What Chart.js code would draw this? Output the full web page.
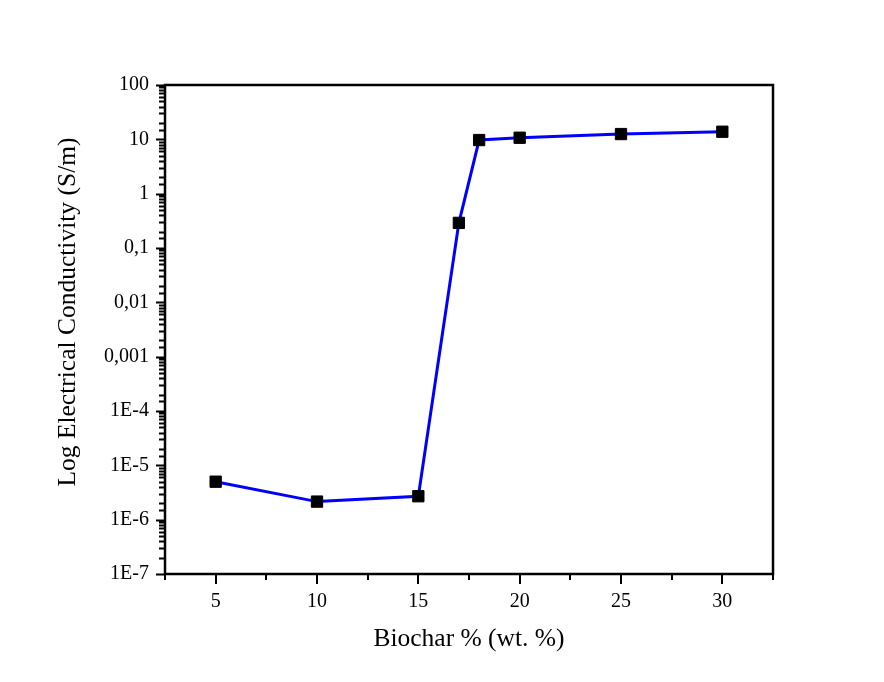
<!DOCTYPE html>
<html>
<head>
<meta charset="utf-8">
<script src="https://cdn.jsdelivr.net/npm/chart.js@4.4.0/dist/chart.umd.min.js"></script>
<style>
  html, body { margin: 0; background: #fff; }
  #wrap { width: 884px; height: 682px; }
</style>
</head>
<body>
<div id="wrap"><canvas id="grafica"></canvas></div>
<script>
// Datos
const biochar = [5, 10, 15, 17, 18, 20, 25, 30];
const conductividad = [5.0e-6, 2.15e-6, 2.7e-6, 0.29, 9.7, 10.7, 12.5, 13.8];
// etiquetas del eje y, de 1E-7 a 100
const etiquetasY = ['1E-7', '1E-6', '1E-5', '1E-4', '0,001', '0,01', '0,1', '1', '10', '100'];
const etiquetasX = ['5', '10', '15', '20', '25', '30'];
const tituloY = 'Log Electrical Conductivity (S/m)';
const tituloX = 'Biochar % (wt. %)';

const serif = 'Liberation Serif';

function esPotencia(v) {
  const e = Math.log10(v);
  return Math.abs(e - Math.round(e)) < 1e-9;
}

// marco, marcas hacia fuera y titulo del eje y
const marco = {
  id: 'marco',
  afterDraw(chart) {
    const { ctx, chartArea: a, scales: { x, y } } = chart;
    ctx.save();
    ctx.strokeStyle = '#000';
    ctx.lineWidth = 2.5;
    ctx.strokeRect(a.left, a.top, a.right - a.left, a.bottom - a.top);
    ctx.lineWidth = 2;
    ctx.beginPath();
    y.ticks.forEach(t => {
      const p = Math.round(y.getPixelForValue(t.value)) + 0.5;
      const len = esPotencia(t.value) ? 9 : 6;
      ctx.moveTo(a.left - len, p);
      ctx.lineTo(a.left, p);
    });
    x.ticks.forEach(t => {
      const p = Math.round(x.getPixelForValue(t.value));
      const len = t.value % 5 === 0 ? 10 : 6;
      ctx.moveTo(p, a.bottom);
      ctx.lineTo(p, a.bottom + len);
    });
    ctx.stroke();

    ctx.translate(68, 312);
    ctx.rotate(-Math.PI / 2);
    ctx.fillStyle = '#000';
    ctx.font = '25.5px "' + serif + '"';
    ctx.textAlign = 'center';
    ctx.textBaseline = 'middle';
    ctx.fillText(tituloY, 0, 0);
    ctx.restore();
  }
};

new Chart(document.getElementById('grafica'), {
  type: 'line',
  data: {
    datasets: [{
      data: biochar.map((b, i) => ({ x: b, y: conductividad[i] })),
      borderColor: '#0000FF',
      borderWidth: 3,
      tension: 0,
      pointStyle: 'rect',
      pointRadius: 8,
      pointBackgroundColor: '#000',
      pointBorderColor: '#000',
      pointBorderWidth: 1
    }]
  },
  options: {
    responsive: true,
    maintainAspectRatio: false,
    animation: false,
    layout: { padding: { top: 85, right: 111, left: 0, bottom: 0 } },
    plugins: {
      legend: { display: false },
      tooltip: { enabled: false }
    },
    scales: {
      x: {
        type: 'linear',
        min: 2.5,
        max: 32.5,
        afterFit(s) { s.height = 108; },
        grid: { display: false, drawTicks: false },
        border: { display: false },
        ticks: {
          stepSize: 2.5,
          autoSkip: false,
          maxRotation: 0,
          padding: 16,
          color: '#000',
          font: { family: serif, size: 20 },
          callback: v => (v % 5 === 0 ? etiquetasX[v / 5 - 1] : '')
        },
        title: {
          display: true,
          text: tituloX,
          color: '#000',
          font: { family: serif, size: 25.5 },
          padding: { top: 0, bottom: 27 }
        }
      },
      y: {
        type: 'logarithmic',
        min: 1e-7,
        max: 100,
        afterFit(s) { s.width = 165; },
        grid: { display: false, drawTicks: false },
        border: { display: false },
        ticks: {
          autoSkip: false,
          padding: 16,
          color: '#000',
          font: { family: serif, size: 20 },
          callback: v => (esPotencia(v) ? etiquetasY[Math.round(Math.log10(v)) + 7] : '')
        }
      }
    }
  },
  plugins: [marco]
});
</script>
</body>
</html>
